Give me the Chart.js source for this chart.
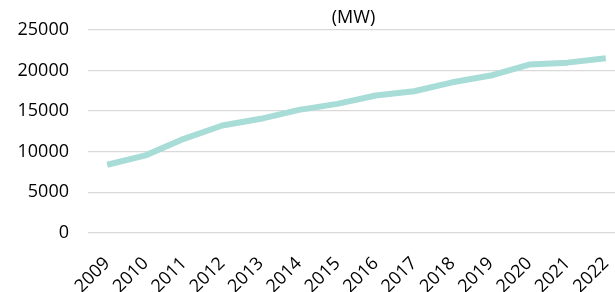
<!DOCTYPE html>
<html>
<head>
<meta charset="utf-8">
<script src="https://cdn.jsdelivr.net/npm/chart.js@4/dist/chart.umd.min.js"></script>
<style>
  html, body { margin: 0; padding: 0; background: #fff; overflow: hidden; }
  #wrap { position: relative; width: 625px; height: 292px; }
</style>
</head>
<body>
<div id="wrap"><canvas id="chart"></canvas></div>
<script>
// capacity by year (MW)
const years = ['2009', '2010', '2011', '2012', '2013', '2014', '2015',
  '2016', '2017', '2018', '2019', '2020', '2021', '2022'];
const capacity = [8400, 9550, 11590, 13230, 14050, 15150, 15890,
  16910, 17440, 18540, 19370, 20720, 20960, 21490];
const yTicks = [0, 5000, 10000, 15000, 20000, 25000];
const unitTitle = '(MW)';

const fuente = '"Open Sans", sans-serif';

// title centred over the plot area, not over the whole canvas
const tituloPlugin = {
  id: 'tituloArea',
  afterDraw(chart) {
    const { ctx, chartArea } = chart;
    ctx.save();
    ctx.font = '18px ' + fuente;
    ctx.fillStyle = '#000';
    ctx.textAlign = 'center';
    ctx.textBaseline = 'middle';
    ctx.fillText(unitTitle, (chartArea.left + chartArea.right) / 2 - 3, 18);
    ctx.restore();
  }
};

new Chart(document.getElementById('chart'), {
  type: 'line',
  data: {
    labels: years,
    datasets: [{
      data: capacity,
      borderColor: '#a8dcd7',
      borderWidth: 6,
      borderJoinStyle: 'round',
      pointRadius: 0,
      tension: 0,
      fill: false
    }]
  },
  options: {
    responsive: true,
    maintainAspectRatio: false,
    animation: false,
    layout: { padding: { left: 17, top: 29, right: 0, bottom: 0 } },
    plugins: {
      legend: { display: false },
      tooltip: { enabled: false },
      title: { display: false }
    },
    scales: {
      x: {
        offset: true,
        grid: { display: false, drawTicks: false },
        border: { display: false },
        afterFit: scale => {
          scale.height = 59;
          scale.paddingLeft = 0;
          scale.paddingRight = 0;
        },
        ticks: {
          color: '#000',
          font: { family: fuente, size: 18 },
          maxRotation: 45,
          minRotation: 45,
          padding: 20
        }
      },
      y: {
        min: 0,
        max: 25000,
        afterBuildTicks: scale => { scale.ticks = yTicks.map(v => ({ value: v })); },
        afterFit: scale => { scale.width = 71; },
        grid: { color: '#d9d9d9', lineWidth: 1.3, drawTicks: false },
        border: { display: false },
        ticks: {
          color: '#000',
          font: { family: fuente, size: 18 },
          padding: 19,
          callback: v => String(v)
        }
      }
    }
  },
  plugins: [tituloPlugin]
});
</script>
</body>
</html>
